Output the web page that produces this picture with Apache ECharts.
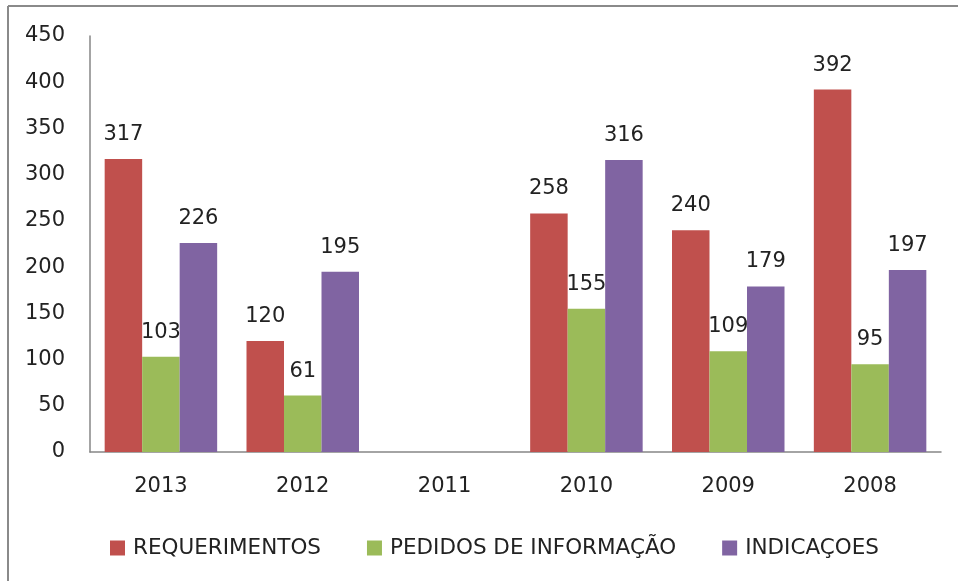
<!DOCTYPE html>
<html>
<head>
<meta charset="utf-8">
<script src="https://cdn.jsdelivr.net/npm/echarts@6/dist/echarts.min.js"></script>
<style>
  html, body { margin: 0; padding: 0; background: #fff; }
  #chart { width: 958px; height: 581px; }
</style>
</head>
<body>
<div id="chart"></div>
<script>
  // dados
  var anos = ["2013", "2012", "2011", "2010", "2009", "2008"];
  var requerimentos = [317, 120, null, 258, 240, 392];
  var pedidos = [103, 61, null, 155, 109, 95];
  var indicacoes = [226, 195, null, 316, 179, 197];
  var nomes = ["REQUERIMENTOS", "PEDIDOS DE INFORMAÇÃO", "INDICAÇOES"];
  var cores = ["#C0504D", "#9BBB59", "#8064A2"];

  var fonte = "'DejaVu Sans', sans-serif";

  var chart = echarts.init(document.getElementById("chart"));

  function serie(nome, dados, cor) {
    return {
      name: nome,
      type: "bar",
      data: dados,
      barWidth: 37.5,
      barGap: "0%",
      itemStyle: { color: cor },
      label: {
        show: true,
        position: "top",
        distance: 14,
        color: "#222",
        fontSize: 21,
        fontFamily: fonte
      }
    };
  }

  chart.setOption({
    animation: false,
    color: cores,
    graphic: [
      // moldura externa (topo e esquerda)
      { type: "line", shape: { x1: 8, y1: 6, x2: 958, y2: 6 }, style: { stroke: "#8a8a8a", lineWidth: 2 } },
      { type: "line", shape: { x1: 8, y1: 6, x2: 8, y2: 581 }, style: { stroke: "#8a8a8a", lineWidth: 2 } }
    ],
    legend: {
      data: nomes,
      left: 105,
      top: 532,
      itemWidth: 15,
      itemHeight: 15,
      itemGap: 46,
      icon: "rect",
      textStyle: { color: "#222", fontSize: 21.5, fontFamily: fonte, padding: [0, 0, 0, 3] }
    },
    grid: { left: 90, right: 17, top: 36, bottom: 129, containLabel: false },
    xAxis: {
      type: "category",
      data: anos,
      axisLine: { lineStyle: { color: "#868686", width: 1.5 } },
      axisTick: { show: false },
      axisLabel: { color: "#222", fontSize: 21, fontFamily: fonte, margin: 24 }
    },
    yAxis: {
      type: "value",
      min: 0,
      max: 450,
      interval: 50,
      axisLine: { show: true, lineStyle: { color: "#868686", width: 1.5 } },
      axisTick: { show: false },
      splitLine: { show: false },
      axisLabel: { color: "#222", fontSize: 21, fontFamily: fonte, margin: 25 }
    },
    series: [
      serie(nomes[0], requerimentos, cores[0]),
      serie(nomes[1], pedidos, cores[1]),
      serie(nomes[2], indicacoes, cores[2])
    ]
  });
</script>
</body>
</html>
